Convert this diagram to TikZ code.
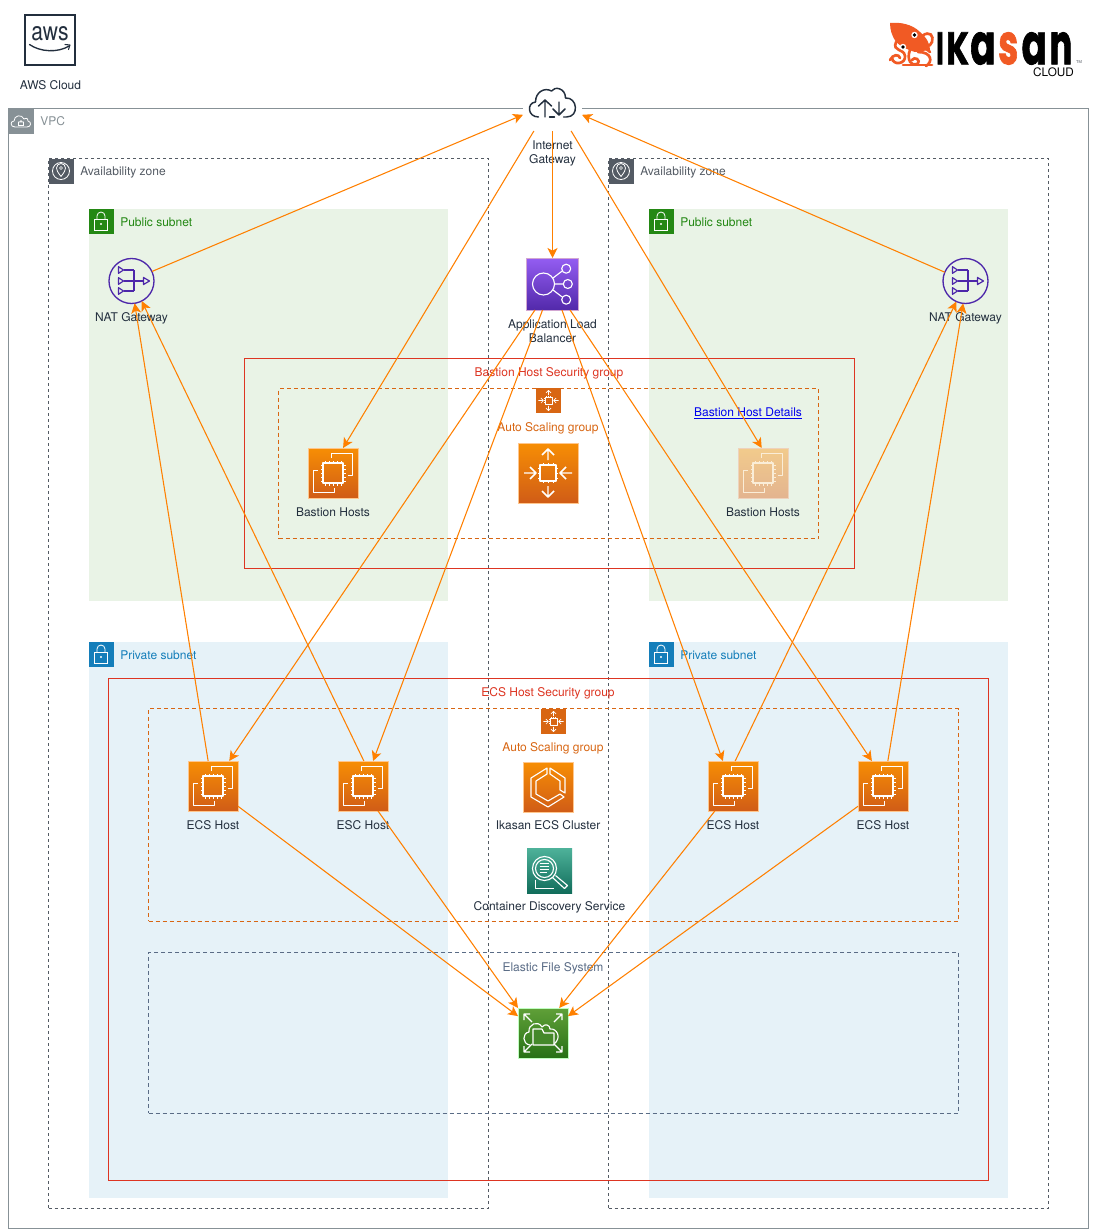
\documentclass[tikz,border=0pt]{standalone}
\usepackage{fontspec}
\usepackage{graphicx}
\setmainfont{TeX Gyre Heros}
\newfontfamily\logofont[BoldFeatures={FakeBold=1.6}]{Poppins}
\usetikzlibrary{arrows.meta,fit,shapes.geometric}
\definecolor{inktext}{HTML}{232F3E}
\definecolor{vpcgrey}{HTML}{879196}
\definecolor{azgrey}{HTML}{545B64}
\definecolor{pubgreen}{HTML}{248814}
\definecolor{pubfill}{HTML}{E9F3E6}
\definecolor{privblue}{HTML}{147EBA}
\definecolor{privfill}{HTML}{E6F2F8}
\definecolor{secred}{HTML}{DD3522}
\definecolor{asgorange}{HTML}{D86613}
\definecolor{wire}{HTML}{FF8000}
\definecolor{efsslate}{HTML}{5A6C86}
\definecolor{natpurple}{HTML}{4D27AA}
\definecolor{logoorange}{HTML}{F15A24}
\definecolor{efsfill}{HTML}{44882A}
\tikzset{
  grp/.style={fit={#1},inner sep=0pt,outer sep=0pt},
  vpcbox/.style={draw=vpcgrey,line width=.75pt,fill=white},
  azbox/.style={draw=azgrey,line width=.75pt,dash pattern=on 2.25pt off 2.25pt},
  pubbox/.style={fill=pubfill},
  privbox/.style={fill=privfill},
  secbox/.style={draw=secred,line width=.75pt},
  asgbox/.style={draw=asgorange,line width=.75pt,dash pattern=on 3pt off 2.25pt},
  efsbox/.style={draw=efsslate,line width=.75pt,dash pattern=on 3pt off 2.25pt},
  badge/.style={minimum size=18.75pt,inner sep=0pt,outer sep=0pt,anchor=north west},
  icon/.style={rectangle,inner sep=0pt,outer sep=0pt,minimum size=#1*.75pt},
  ec2icon/.style={icon=50,draw=orange!45!white,line width=.6pt,top color=ec2a,bottom color=ec2b},
  ec2fade/.style={icon=50,draw=ec2fadeb!60!white,line width=.6pt,top color=ec2fadea,bottom color=ec2fadeb},
  lbl/.style={font=\fontsize{9}{10.5}\selectfont,text=inktext,align=center,inner sep=0pt},
  grplbl/.style={font=\fontsize{9}{10.5}\selectfont,inner sep=0pt,anchor=west},
  glyph/.style={draw=white,line width=.85pt,line join=round},
  wireline/.style={draw=wire,line width=.8pt,-{Stealth[length=7.5pt,width=7.5pt,inset=2pt]}},
}
\definecolor{ec2a}{HTML}{F78E04}
\definecolor{ec2b}{HTML}{D05C17}
\definecolor{ec2fadea}{HTML}{F2CB8C}
\definecolor{ec2fadeb}{HTML}{E3B48F}
% EC2 glyph
\newcommand{\chipglyph}[3]{%
 \begin{scope}[shift={(#1,#2)}]
  \draw[draw=#3,line width=.9pt,line join=round] (-10,-10) rectangle (10,10);
  \foreach \t in {-8,-4,0,4,8}{
   \draw[draw=#3,line width=.55pt] (\t,-10)--(\t,-12.5) (\t,10)--(\t,12.5) (-10,\t)--(-12.5,\t) (10,\t)--(12.5,\t);}
  \draw[draw=#3,line width=.9pt,line join=round] (-1.7,-15)--(-1.7,-19.3)--(19.3,-19.3)--(19.3,2.3)--(15,2.3);
  \draw[draw=#3,line width=.9pt,line join=round] (1.7,15)--(1.7,19.3)--(-19.3,19.3)--(-19.3,-2.3)--(-15,-2.3);
 \end{scope}}
% auto scaling glyph
\newcommand{\asgglyph}[4]{%
 \begin{scope}[shift={(#1,#2)},scale=#3]
  \draw[glyph,line width=#4pt] (-8,-8) rectangle (8,8);
  \draw[glyph,line width=#4pt] (0,-13)--(0,-24) (-6,-18)--(0,-24)--(6,-18);
  \draw[glyph,line width=#4pt] (0,13)--(0,24) (-6,18)--(0,24)--(6,18);
  \draw[glyph,line width=#4pt] (-24,0)--(-12,0) (-18,-6)--(-12,0)--(-18,6);
  \draw[glyph,line width=#4pt] (24,0)--(12,0) (18,-6)--(12,0)--(18,6);
  \foreach \t in {-5,0,5}{
   \draw[glyph,line width=.5*#4pt] (\t,-8)--(\t,-10) (\t,8)--(\t,10) (-8,\t)--(-10,\t) (8,\t)--(10,\t);}
 \end{scope}}
\begin{document}
\begin{tikzpicture}[x=.75pt,y=-.75pt]
\useasboundingbox (0,0) rectangle (1092,1231);
\fill[white] (0,0) rectangle (1092,1231);

% ---- containers
\node[grp={(8.5,108.5)(1088,1228)},vpcbox] (vpc) {};
\node[grp={(88.5,208.5)(448,601)},pubbox] (publ) {};
\node[grp={(648.5,208.5)(1008,601)},pubbox] (pubr) {};
\node[grp={(88.5,641.5)(448,1198)},privbox] (privl) {};
\node[grp={(648.5,641.5)(1008,1198)},privbox] (privr) {};
\node[grp={(48.5,158.5)(488.5,1208)},azbox] (azl) {};
\node[grp={(608.5,158.5)(1048.5,1208)},azbox] (azr) {};
\node[grp={(244.5,358.5)(854.5,568.5)},secbox] (secb) {};
\node[grp={(108.5,678.5)(988.5,1180)},secbox] (sece) {};
\node[grp={(278.5,388.5)(818.5,538.5)},asgbox] (asgb) {};
\node[grp={(148.5,708.5)(958.5,921)},asgbox] (asge) {};
\node[grp={(148.5,952.5)(958.5,1113)},efsbox] (efsg) {};

% ---- badges
\node[badge,fill=vpcgrey] (bvpc) at (8.5,108.5) {};
\begin{scope}[shift={(21,122)}]
 \draw[white,line width=.6pt,line join=round] (-6,5) .. controls (-11,5) and (-11,-1) .. (-7,-1) .. controls (-7,-7) and (1,-8) .. (3,-3) .. controls (6,-5) and (8,-2) .. (7,-1) .. controls (11,0) and (10,5) .. (6,5) -- cycle;
 \draw[white,line width=.5pt] (-2.5,0) rectangle (2.5,3.5) (-1.5,0) arc (180:360:1.5);
\end{scope}
\foreach \n/\x in {bazl/48.5,bazr/608.5}{
 \node[badge,fill=azgrey] (\n) at (\x,158.5) {};
 \draw[white,line width=.6pt] (\x+12.5,171) circle (8.5);
 \draw[white,line width=.6pt,line join=round] (\x+12.5,176.5) .. controls (\x+9,172) and (\x+8,170) .. (\x+8,168) arc (180:360:4.5) .. controls (\x+17,170) and (\x+16,172) .. (\x+12.5,176.5) -- cycle;
 \draw[white,line width=.5pt] (\x+12.5,168) circle (1.5);
}
\foreach \n/\x/\y/\c in {bpl/88.5/208.5/pubgreen,bpr/648.5/208.5/pubgreen,bql/88.5/641.5/privblue,bqr/648.5/641.5/privblue}{
 \node[badge,fill=\c] (\n) at (\x,\y) {};
 \draw[white,line width=.6pt] (\x+6,\y+10.5) rectangle (\x+19,\y+21.5);
 \draw[white,line width=.6pt] (\x+8.5,\y+10.5) -- (\x+8.5,\y+7.5) arc (180:360:4) -- (\x+16.5,\y+10.5);
 \fill[white] (\x+12.5,\y+15.5) circle (1.2);
}

% ---- group labels
\node[grplbl,text=vpcgrey] (tvpc) at (40,121.5) {VPC};
\node[grplbl,text=azgrey] (tazl) at (80,172) {Availability zone};
\node[grplbl,text=azgrey] (tazr) at (640,172) {Availability zone};
\node[grplbl,text=pubgreen] (tpl) at (120,222) {Public subnet};
\node[grplbl,text=pubgreen] (tpr) at (680,222) {Public subnet};
\node[grplbl,text=privblue] (tql) at (120,655) {Private subnet};
\node[grplbl,text=privblue] (tqr) at (680,655) {Private subnet};
\node[lbl,text=secred] (tsb) at (549,373) {Bastion Host Security group};
\node[lbl,text=secred] (tse) at (548,693) {ECS Host Security group};
\node[lbl,text=asgorange] (tab) at (548,428) {Auto Scaling group};
\node[lbl,text=asgorange] (tae) at (553,748) {Auto Scaling group};
\node[lbl,text=efsslate] (tef) at (553,968) {Elastic File System};
\node[lbl,text={rgb,255:red,0;green,0;blue,238}] (tlink) at (748,413.5) {\underline{Bastion Host Details}};

% ---- AWS logo
\node[icon=50,draw=inktext,line width=1.1pt] (awsbox) at (50,40) {};
\node[inner sep=0pt,text=inktext] (awsword) at (50,34) {\resizebox{27.75pt}{10.5pt}{aws}};
\draw[inktext,line width=1pt,line cap=round] (29.5,44.5) .. controls (40,52) and (58,53) .. (69,46);
\draw[inktext,line width=.8pt,line cap=round,line join=round] (65,44.5)--(70,45)--(68.5,49.5);
\node[lbl] (tcloud) at (50.5,85) {AWS Cloud};

% ---- Ikasan logo
\node[inner sep=0pt,anchor=west,font=\logofont\bfseries\fontsize{30}{30}\selectfont] (ikword) at (936,48.5) {%
 \resizebox{5.5pt}{24pt}{I}\hspace{2pt}\resizebox{17pt}{24pt}{K}\hspace{1pt}\resizebox{19pt}{24pt}{a}\hspace{2pt}\textcolor{logoorange}{\resizebox{15pt}{24pt}{s}}\hspace{2.5pt}\resizebox{19pt}{24pt}{a}\hspace{2pt}\resizebox{17pt}{24pt}{n}};
\node[inner sep=0pt,font=\fontsize{8.8}{8.8}\selectfont] (ikcloud) at (1053.5,72) {CLOUD};
\node[inner sep=0pt,font=\fontsize{3}{3}\selectfont,text=azgrey] (iktm) at (1079,62.5) {TM};
\fill[logoorange] (890,23) .. controls (900,22) and (912,24) .. (920,32) .. controls (927,38) and (930,44) .. (930,50)
  -- (915,52) .. controls (908,50) and (900,46) .. (896,42) .. controls (892,36) and (890,30) .. (890,23) -- cycle;
\begin{scope}[logoorange,line width=2pt,line cap=round]
 \draw (896,42) .. controls (892,52) and (904,48) .. (905,56) .. controls (906,64) and (893,66) .. (892,58);
 \draw (910,50) .. controls (906,60) and (912,67) .. (917,64) .. controls (922,60) and (914,56) .. (912,60);
 \draw (918,52) .. controls (932,52) and (933,62) .. (926,66);
 \draw (922,36) .. controls (930,30) and (934,36) .. (932,42) .. controls (930,48) and (924,46) .. (925,42);
 \draw (890,60) .. controls (893,54) and (899,54) .. (900,58);
 \draw (903,65) -- (932,65);
 \draw (920,44) -- (930,52);
\end{scope}
\fill[white] (914.5,35) circle (3.2) (903,47) circle (3.2);
\fill[black] (914.5,35) circle (1.8) (903,47) circle (1.8);

% ---- icons
\node[ec2icon] (bh1) at (333,473) {};
\chipglyph{333}{473}{white}
\node[ec2fade] (bh2) at (763,473) {};
\chipglyph{763}{473}{ec2fadea!35!white}
\node[icon=60,draw=orange!45!white,line width=.6pt,top color=ec2a,bottom color=ec2b] (asgbig) at (548,473) {};
\asgglyph{548}{473}{1}{1.1}
\node[icon=25,fill=asgorange] (asgs1) at (548.5,400.5) {};
\asgglyph{548.5}{400.5}{.42}{.5}
\node[icon=25,fill=asgorange] (asgs2) at (553.5,721.5) {};
\asgglyph{553.5}{721.5}{.42}{.5}

\node[ec2icon] (h1) at (213,786) {};
\chipglyph{213}{786}{white}
\node[ec2icon] (h2) at (363,786) {};
\chipglyph{363}{786}{white}
\node[ec2icon] (h3) at (733,786) {};
\chipglyph{733}{786}{white}
\node[ec2icon] (h4) at (883,786) {};
\chipglyph{883}{786}{white}

% ECS cluster
\node[ec2icon] (ecs) at (548,787) {};
\begin{scope}[shift={(548,787)}]
 \draw[glyph] (-1,-19)--(-17,-9)--(-17,10)--(0,20)--(16,10)--(12,7)--(0,14)--(-12,7)--(-12,-6)--(-1,-13)--cycle;
 \draw[glyph] (2,-19)--(17,-9)--(17,6)--(12,3)--(12,-6)--(2,-13)--cycle;
\end{scope}

% Discovery
\node[icon=45,top color={rgb,255:red,78;green,178;blue,154},bottom color={rgb,255:red,17;green,109;blue,91}] (cds) at (549.5,870.5) {};
\begin{scope}[shift={(549.5,870.5)}]
 \draw[glyph] (-5,-2) circle (12) (-5,-2) circle (9);
 \draw[glyph,line width=.6pt] (-10,-7)--(-1,-7) (-10,-4)--(-1,-4) (-10,-1)--(-1,-1) (-10,2)--(-3,2);
 \draw[glyph] (3,7)--(15,18)--(18,15)--(6,5);
 \draw[glyph] (-14,9)--(-14,18)--(4,18);
\end{scope}

% ALB
\node[icon=52,draw=violet!35!white,line width=.6pt,top color={rgb,255:red,148;green,93;blue,242},bottom color={rgb,255:red,82;green,41;blue,170}] (alb) at (552.5,284) {};
\begin{scope}[shift={(552.5,284)}]
 \draw[glyph] (-9,0) circle (11) (13.7,-15.3) circle (4.5) (15.3,0) circle (4.5) (13.7,15.7) circle (4.5);
 \draw[glyph] (0.5,-6)--(9.7,-13) (2,0)--(10.8,0) (0.5,6)--(9.7,13);
\end{scope}

% EFS
\node[icon=50,draw=green!25!white,line width=.6pt,top color={rgb,255:red,96;green,160;blue,56},bottom color={rgb,255:red,39;green,113;blue,22}] (efs) at (543,1033) {};
\begin{scope}[shift={(543,1033)}]
 \draw[glyph] (-13,12) .. controls (-21,11) and (-21,0) .. (-14,-1) .. controls (-15,-9) and (-5,-13) .. (-1,-6) .. controls (2,-10) and (7,-8) .. (7,-4) .. controls (14,-5) and (19,5) .. (11,11);
 \draw[glyph,fill=efsfill] (-10,0) -- (-10,-4) -- (-1,-4) -- (1,0) -- (11,0) -- (11,12) -- (-10,12) -- cycle;
 \foreach \a in {0,90,180,270}{
  \begin{scope}[rotate=\a]
   \draw[glyph] (11,-11)--(19,-19) (13,-19)--(19,-19)--(19,-13);
  \end{scope}}
\end{scope}

% NAT
\tikzset{natnode/.style={circle,draw=natpurple,line width=1pt,inner sep=0pt,outer sep=0pt,minimum size=33.75pt}}
\foreach \n/\x in {nat1/131.5,nat2/965.5}{
 \node[natnode] (\n) at (\x,281) {};
 \begin{scope}[shift={(\x,281)},natpurple,line width=.9pt,line join=round]
  \foreach \yy in {-11,0,10}{
   \draw (-13,\yy-3.3)--(-8,\yy)--(-13,\yy+3.3)--cycle;
   \draw (-8,\yy)--(2.5,\yy);}
  \draw (2.5,-11)--(2.5,10);
  \draw (2.5,0)--(12,0);
  \draw (12,-3.5)--(18,0)--(12,3.5)--cycle;
 \end{scope}
}

% Internet gateway
\node[rectangle,fill=white,minimum width=44.25pt,minimum height=34.5pt,inner sep=0pt,outer sep=0pt] (igw) at (552.5,108) {};
\begin{scope}[shift={(552.5,103)},inktext,line width=1.1pt,line join=round,line cap=round]
 \draw (-14,14) .. controls (-25,14) and (-26,0) .. (-17,-1) .. controls (-17,-11) and (-8,-16) .. (-1,-12) .. controls (2,-17) and (13,-15) .. (13,-5) .. controls (25,-6) and (27,14) .. (14,14) -- (11,14);
 \draw (-7.5,14)--(-7.5,-3) (-14,3)--(-7.5,-3)--(-1,3);
 \draw (6.5,-1)--(6.5,12) (0.5,6)--(6.5,12)--(12.5,6);
 \draw (-3,14)--(2,14);
\end{scope}

% ---- icon labels
\node[lbl] (ligw) at (552.5,153) {Internet\\Gateway};
\node[lbl] (lalb) at (552.5,331) {Application Load\\Balancer};
\node[lbl] (lnat1) at (131.5,318) {NAT Gateway};
\node[lbl] (lnat2) at (965.5,318) {NAT Gateway};
\node[lbl] (lbh1) at (333,512) {Bastion Hosts};
\node[lbl] (lbh2) at (763,512) {Bastion Hosts};
\node[lbl] (lh1) at (213,825) {ECS Host};
\node[lbl] (lh2) at (363,825) {ESC Host};
\node[lbl] (lh3) at (733,825) {ECS Host};
\node[lbl] (lh4) at (883,825) {ECS Host};
\node[lbl] (lecs) at (548,825) {Ikasan ECS Cluster};
\node[lbl] (lcds) at (549.5,907.5) {Container Discovery Service};

% ---- connectors
\draw[wireline] (nat1.25) -- (igw.193);
\draw[wireline] (nat2.157) -- (igw.347);
\draw[wireline] (igw.231) -- (bh1.68);
\draw[wireline] (igw.309) -- (bh2.93);
\draw[wireline] (igw.south) -- (alb.north);
\draw[wireline] (alb.236) -- (h1.57);
\draw[wireline] (alb.249) -- (h2.68);
\draw[wireline] (alb.290) -- (h3.112);
\draw[wireline] (alb.304) -- (h4.114);
\draw[wireline] (h1.101) -- (nat1.278);
\draw[wireline] (h2.88) -- (nat1.297);
\draw[wireline] (h3.85) -- (nat2.246);
\draw[wireline] (h4.79) -- (nat2.264);
\draw[wireline] (h1.321) -- (efs.146);
\draw[wireline] (h2.301) -- (efs.135);
\draw[wireline] (h3.234) -- (efs.57);
\draw[wireline] (h4.219) -- (efs.34);
\end{tikzpicture}
\end{document}
